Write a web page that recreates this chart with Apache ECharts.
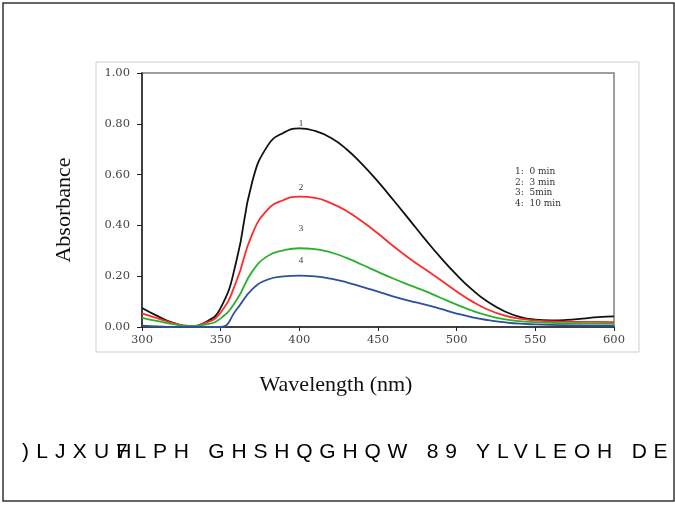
<!DOCTYPE html>
<html>
<head>
<meta charset="utf-8">
<script src="https://cdn.jsdelivr.net/npm/echarts@6/dist/echarts.min.js"></script>
<style>
  body { margin: 0; overflow: hidden; background: #fff; }
  #main { width: 675px; height: 505px; position: absolute; left: 0; top: 0; }
  .cap { position: absolute; top: 439px; font-family: "Liberation Sans", Arial, sans-serif;
         font-size: 21px; letter-spacing: 6.8px; color: #000; white-space: pre; line-height: 24px; }
</style>
</head>
<body>
<div id="main"></div>
<div class="cap" style="left:22px; letter-spacing:7.2px">)LJXUH</div>
<div class="cap" style="left:116px">7LPH GHSHQGHQW 89 YLVLEOH DE</div>
<script>
// wavelength (nm), every 10 nm
var wavelengths = [300, 310, 320, 330, 340, 350, 360, 370, 380, 390, 400, 410, 420, 430, 440, 450,
                   460, 470, 480, 490, 500, 510, 520, 530, 540, 550, 560, 570, 580, 590, 600];
// absorbance, 0 min
var abs0 = [0.075, 0.043, 0.016, 0.004, 0.018, 0.075, 0.260, 0.570, 0.715, 0.765, 0.782, 0.772, 0.745, 0.700, 0.640, 0.572,
            0.498, 0.422, 0.345, 0.272, 0.205, 0.146, 0.098, 0.063, 0.040, 0.029, 0.026, 0.028, 0.033, 0.039, 0.042];
// 3 min
var abs3 = [0.054, 0.034, 0.015, 0.004, 0.015, 0.057, 0.180, 0.365, 0.463, 0.500, 0.513, 0.508, 0.488, 0.457, 0.415, 0.368,
            0.317, 0.270, 0.227, 0.184, 0.140, 0.100, 0.068, 0.046, 0.033, 0.026, 0.022, 0.021, 0.020, 0.020, 0.019];
// 5 min
var abs5 = [0.036, 0.023, 0.011, 0.003, 0.009, 0.034, 0.105, 0.218, 0.280, 0.302, 0.310, 0.307, 0.294, 0.272, 0.245, 0.217,
            0.190, 0.165, 0.141, 0.114, 0.088, 0.064, 0.045, 0.031, 0.023, 0.019, 0.016, 0.015, 0.014, 0.013, 0.013];
// 10 min
var abs10 = [0.005, 0.002, 0.000, 0.000, 0.000, 0.000, 0.068, 0.148, 0.187, 0.199, 0.202, 0.199, 0.190, 0.176, 0.158, 0.139,
             0.120, 0.103, 0.088, 0.071, 0.053, 0.038, 0.027, 0.019, 0.013, 0.010, 0.008, 0.007, 0.006, 0.005, 0.005];

var seriesNames = ['1', '2', '3', '4'];
var seriesColors = ['#111111', '#ff2a2a', '#2bb02b', '#2c4f9e'];
var labelX = [401, 401, 401, 401];
var labelY = [0.80, 0.55, 0.387, 0.262];
var legendTexts = ['1:  0 min', '2:  3 min', '3:  5min', '4:  10 min'];

var serifFont = '"DejaVu Serif", "Liberation Serif", serif';

function pairs(ys) {
    var out = [];
    for (var i = 0; i < wavelengths.length; i++) {
        out.push([wavelengths[i], ys[i]]);
    }
    return out;
}

var allData = [abs0, abs3, abs5, abs10];
var series = [];
for (var i = 0; i < allData.length; i++) {
    series.push({
        name: seriesNames[i],
        type: 'line',
        data: pairs(allData[i]),
        smooth: 0.5,
        showSymbol: false,
        clip: true,
        lineStyle: { color: seriesColors[i], width: 1.8 },
        markPoint: {
            symbol: 'circle',
            symbolSize: 0,
            data: [{ coord: [labelX[i], labelY[i]] }],
            label: {
                show: true,
                formatter: seriesNames[i],
                color: '#333',
                fontFamily: '"Liberation Serif", serif',
                fontSize: 9
            }
        }
    });
}

var graphics = [
    { type: 'rect', shape: { x: 3, y: 3, width: 671, height: 498 },
      style: { fill: 'none', stroke: '#333', lineWidth: 1.5 }, silent: true },
    { type: 'rect', shape: { x: 96, y: 62, width: 543, height: 290 },
      style: { fill: 'none', stroke: '#cfcfcf', lineWidth: 1 }, silent: true },
    { type: 'text', x: 64, y: 210, rotation: Math.PI / 2,
      style: { text: 'Absorbance', font: '22px "Liberation Serif", serif', fill: '#111',
               textAlign: 'center', textVerticalAlign: 'middle' } },
    { type: 'text', x: 336, y: 385,
      style: { text: 'Wavelength (nm)', font: '22px "Liberation Serif", serif', fill: '#111',
               textAlign: 'center', textVerticalAlign: 'middle' } }
];
for (var j = 0; j < legendTexts.length; j++) {
    graphics.push({ type: 'text', x: 515, y: 172 + j * 10.4,
        style: { text: legendTexts[j], font: '9px ' + serifFont, fill: '#333',
                 textAlign: 'left', textVerticalAlign: 'middle' } });
}

var myChart = echarts.init(document.getElementById('main'));
myChart.setOption({
    animation: false,
    backgroundColor: 'transparent',
    grid: { left: 142, top: 73, width: 472, height: 254, show: true,
            borderColor: '#808080', borderWidth: 1.5 },
    xAxis: {
        type: 'value', min: 300, max: 600, interval: 50,
        axisLine: { lineStyle: { color: '#222', width: 1.5 } },
        axisTick: { show: true, length: 4, lineStyle: { color: '#222' } },
        splitLine: { show: false },
        axisLabel: { color: '#444', fontFamily: serifFont, fontSize: 11.5, margin: 7 }
    },
    yAxis: {
        type: 'value', min: 0, max: 1, interval: 0.2,
        axisLine: { show: true, lineStyle: { color: '#222', width: 1.5 } },
        axisTick: { show: true, length: 5, lineStyle: { color: '#222' } },
        splitLine: { show: false },
        axisLabel: { color: '#444', fontFamily: serifFont, fontSize: 11.5, margin: 12,
                     formatter: function (v) { return v.toFixed(2); } }
    },
    graphic: graphics,
    series: series
});
</script>
</body>
</html>
